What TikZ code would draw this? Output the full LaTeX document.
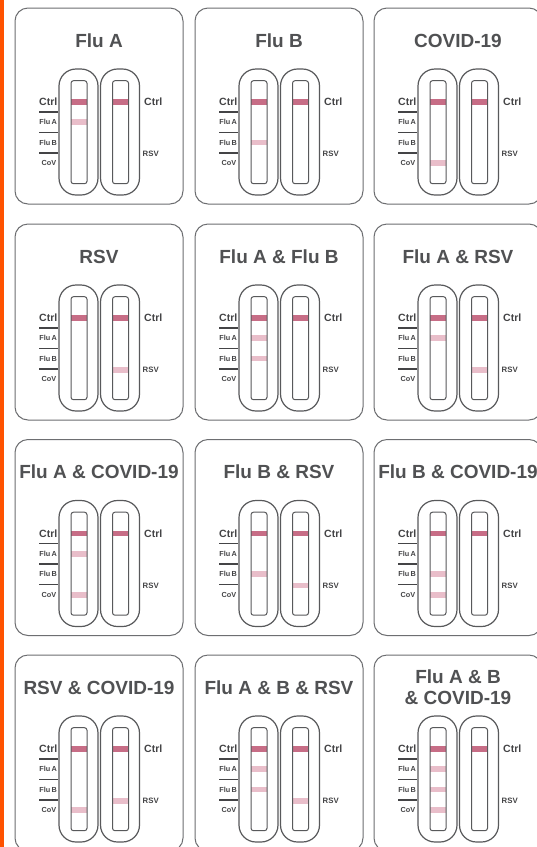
\documentclass[tikz,border=0pt]{standalone}
\usepackage{fontspec}
\setmainfont{Liberation Sans}
\definecolor{ink}{HTML}{58595B}
\definecolor{titleink}{HTML}{505153}
\definecolor{labink}{HTML}{444446}
\definecolor{frame}{HTML}{6D6E71}
\definecolor{ctrlband}{HTML}{C76D86}
\definecolor{faintband}{HTML}{E9BECA}
\definecolor{bar}{HTML}{FF5200}
\tikzset{
 panelbox/.style={draw=frame, line width=1pt, rounded corners=13pt},
 cassette/.style={draw=ink, line width=1.2pt, rounded corners=17pt},
 strip/.style={draw=ink, line width=1pt, rounded corners=2.5pt},
 titletext/.style={font=\fontsize{19}{21}\selectfont\bfseries, text=titleink, align=center, inner sep=0pt},
 biglab/.style={font=\fontsize{10.5}{11}\selectfont\bfseries, text=labink, inner sep=0pt},
 smalllab/.style={font=\fontsize{7.3}{8}\selectfont\bfseries, text=labink, inner sep=0pt},
 rsvlab/.style={font=\fontsize{7.8}{8}\selectfont\bfseries, text=labink, inner sep=0pt},
 sepline/.style={draw=labink, line width=1.4pt},
}
% #1 id, #2 x, #3 y, #4 title, #5 FluA, #6 FluB, #7 CoV, #8 RSV
\newcommand\tpanel[8]{%
\begin{scope}[shift={(#2,#3)}]
\draw[panelbox] (0,0) rectangle (168,196);
\node[titletext] (title#1) at (84,32.5) {#4};
\draw[cassette] (44,61) rectangle (83,187);
\draw[cassette] (85.5,61) rectangle (124.5,187);
\fill[ctrlband] (56,91.2) rectangle (72,96.8);
\fill[ctrlband] (97.5,91.2) rectangle (113.5,96.8);
\ifnum#5=1 \fill[faintband] (56,111.4) rectangle (72,117);\fi
\ifnum#6=1 \fill[faintband] (56,131.8) rectangle (72,137.4);\fi
\ifnum#7=1 \fill[faintband] (56,152.4) rectangle (72,158);\fi
\ifnum#8=1 \fill[faintband] (97.5,143) rectangle (113.5,148.6);\fi
\draw[strip] (56,72.7) rectangle (72,175.7);
\draw[strip] (97.5,72.7) rectangle (113.5,175.7);
\node[biglab, anchor=east] (lctrl#1) at (42.5,93.8) {Ctrl};
\node[smalllab, anchor=east] (lfa#1) at (42,114.3) {Flu\,A};
\node[smalllab, anchor=east] (lfb#1) at (42,134.8) {Flu\,B};
\node[smalllab, anchor=east] (lcov#1) at (41.5,155.3) {CoV};
\draw[sepline] (24,104) -- (42.5,104);
\draw[sepline] (24,124.3) -- (42.5,124.3);
\draw[sepline] (24,145) -- (42.5,145);
\node[biglab, anchor=west] (rctrl#1) at (129,94) {Ctrl};
\node[rsvlab, anchor=west] (rrsv#1) at (127.5,146) {RSV};
\end{scope}}
\begin{document}
\begin{tikzpicture}[x=1pt,y=-1pt]
\useasboundingbox (0,0) rectangle (537,847);
\clip (0,0) rectangle (537,847);
\fill[white] (0,0) rectangle (537,847);
\fill[bar] (0,0) rectangle (4,847);
\tpanel{1}{15}{8}{Flu A}{1}{0}{0}{0}
\tpanel{2}{195}{8}{Flu B}{0}{1}{0}{0}
\tpanel{3}{374}{8}{COVID-19}{0}{0}{1}{0}
\tpanel{4}{15}{224}{RSV}{0}{0}{0}{1}
\tpanel{5}{195}{224}{Flu A \& Flu B}{1}{1}{0}{0}
\tpanel{6}{374}{224}{Flu A \& RSV}{1}{0}{0}{1}
\tpanel{7}{15}{439.5}{Flu A \& COVID-19}{1}{0}{1}{0}
\tpanel{8}{195}{439.5}{Flu B \& RSV}{0}{1}{0}{1}
\tpanel{9}{374}{439.5}{Flu B \& COVID-19}{0}{1}{1}{0}
\tpanel{10}{15}{655}{RSV \& COVID-19}{0}{0}{1}{1}
\tpanel{11}{195}{655}{Flu A \& B \& RSV}{1}{1}{0}{1}
\tpanel{12}{374}{655}{Flu A \& B\\\& COVID-19}{1}{1}{1}{0}
\end{tikzpicture}
\end{document}
